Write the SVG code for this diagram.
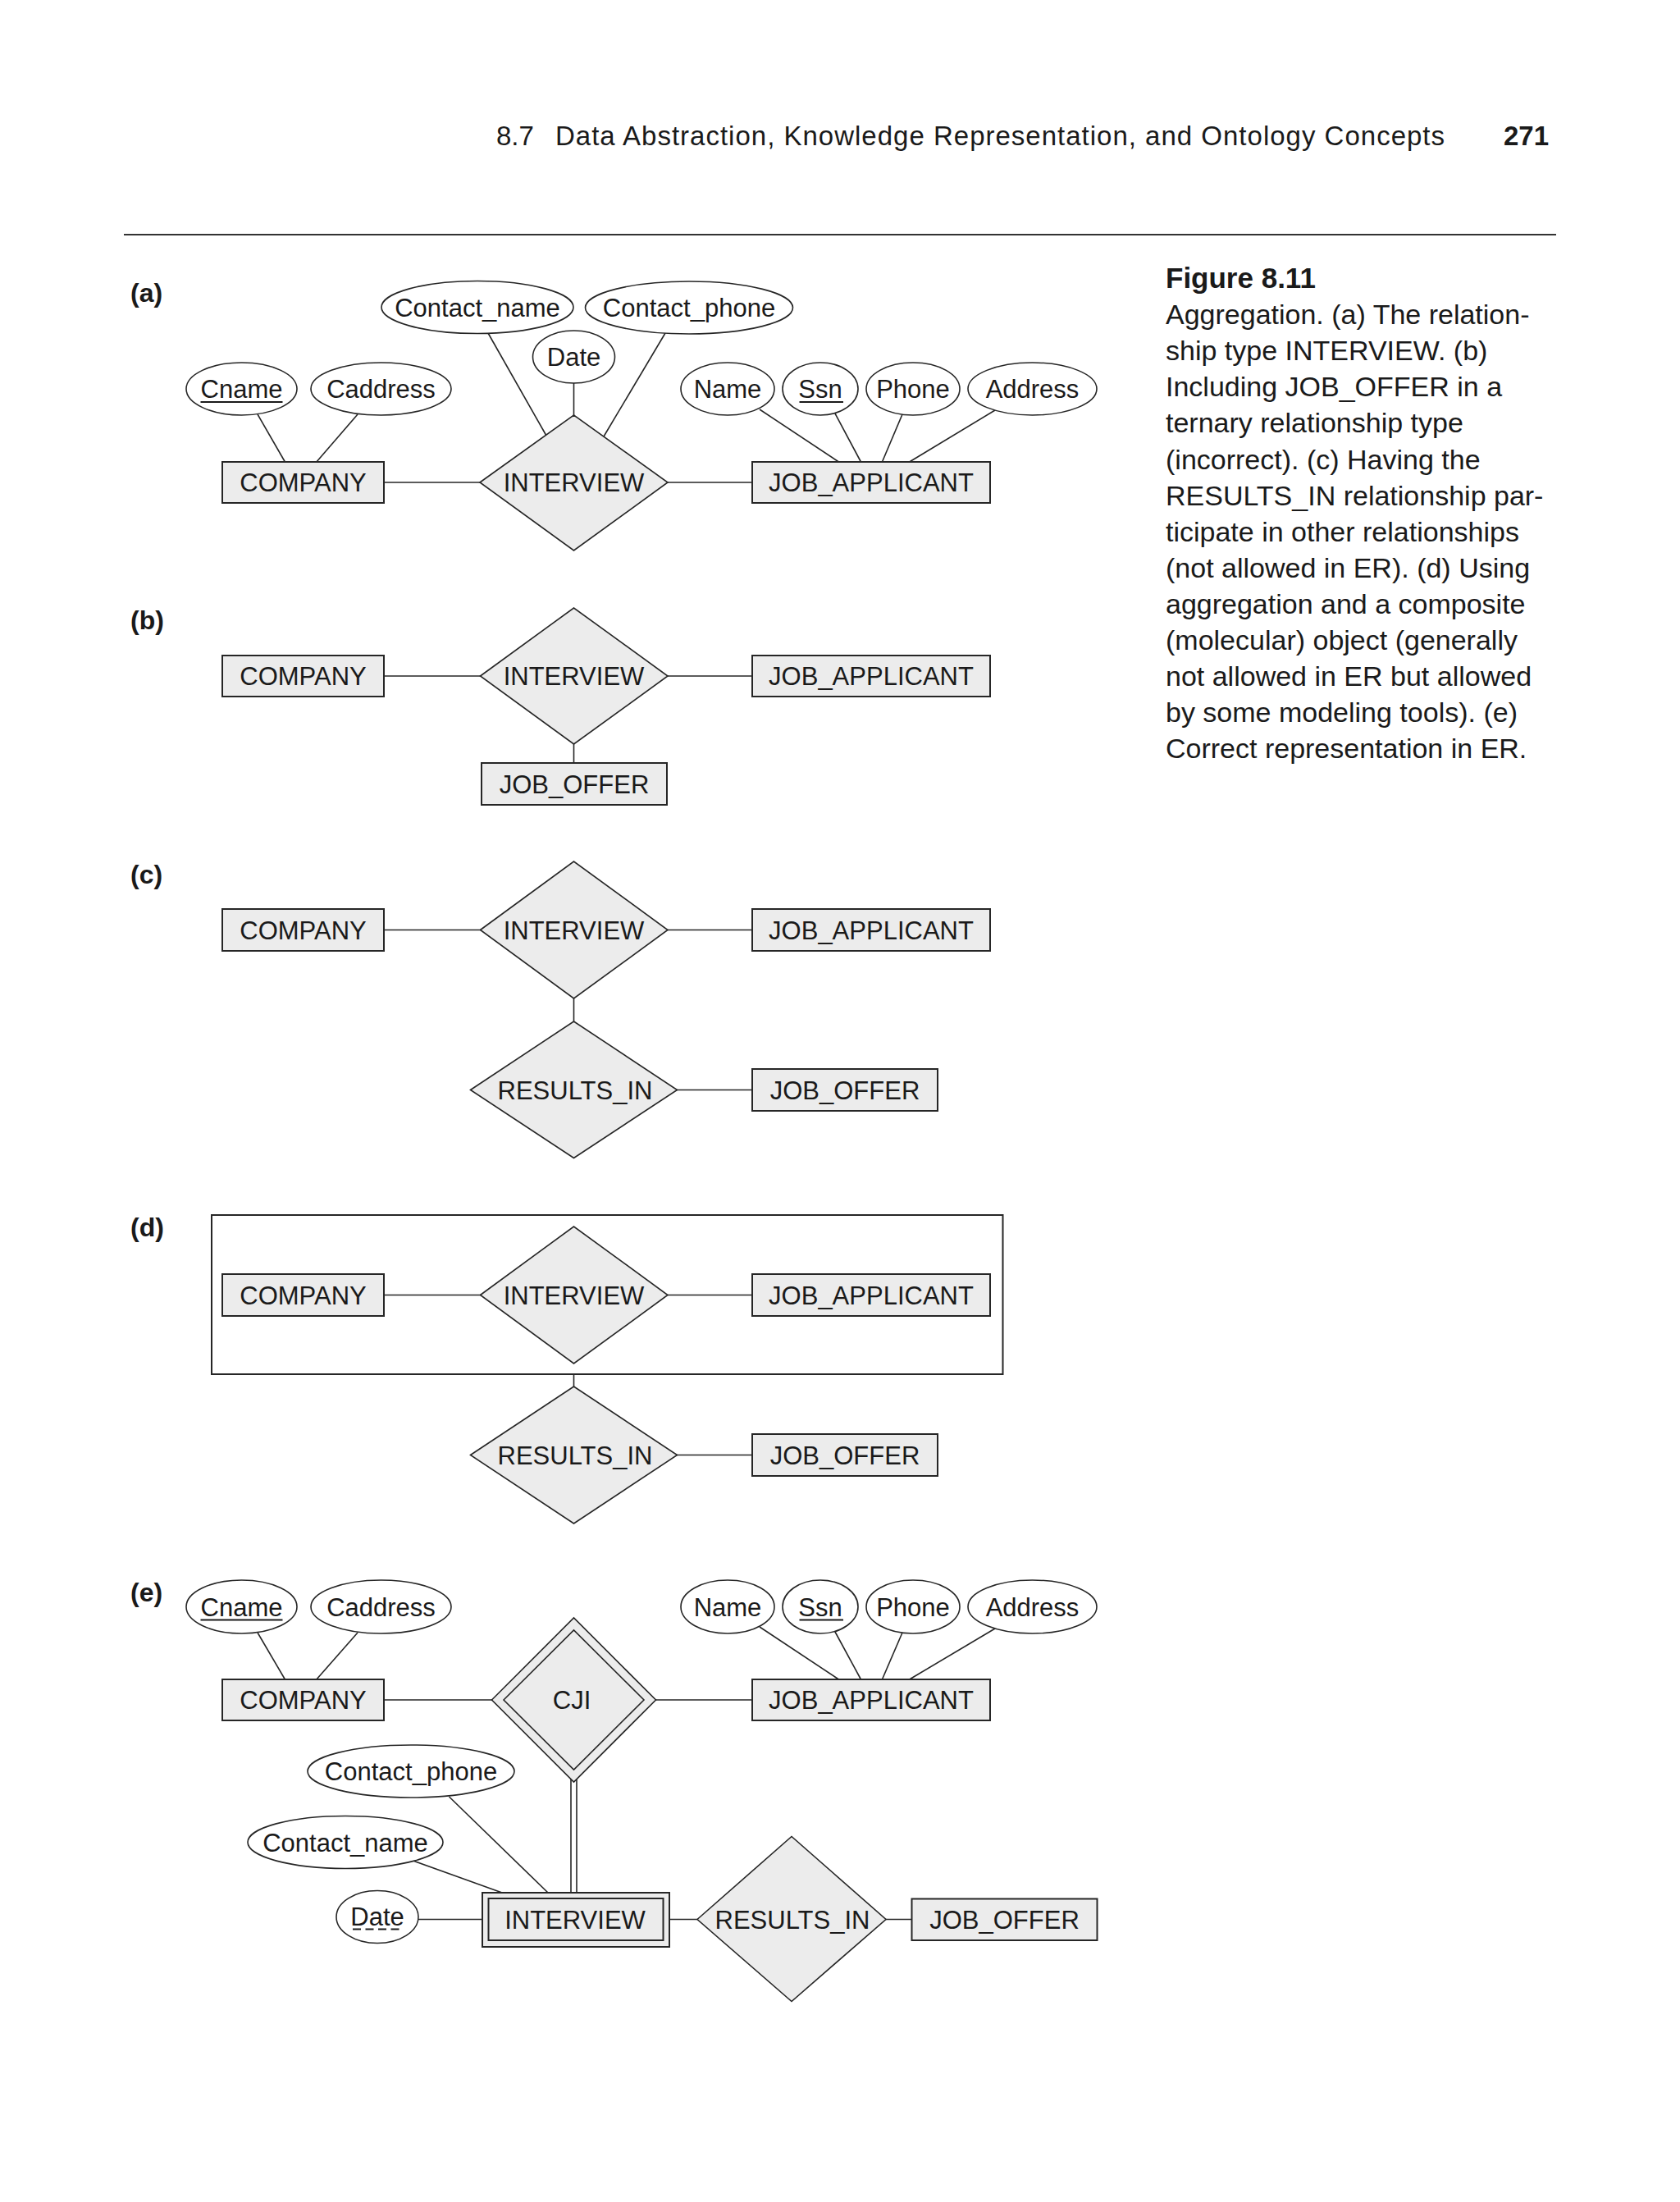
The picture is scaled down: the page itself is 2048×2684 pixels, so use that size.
<svg xmlns="http://www.w3.org/2000/svg" width="2048" height="2684" viewBox="0 0 2048 2684">
<style>
.bg{fill:#ffffff}
.ent{fill:#ececec;stroke:#262626;stroke-width:2}
.rel{fill:#ececec;stroke:#262626;stroke-width:1.6}
.attr{fill:#ffffff;stroke:#262626;stroke-width:1.6}
.agg{fill:none;stroke:#262626;stroke-width:2}
.ln{stroke:#262626;stroke-width:1.6;fill:none}
.ul{stroke:#1a1a1a;stroke-width:2}
.dul{stroke:#1a1a1a;stroke-width:2;stroke-dasharray:10 5.5}
.t{font-family:"Liberation Sans",Arial,sans-serif;font-size:31px;fill:#1a1a1a;text-anchor:middle}
.lbl{font-family:"Liberation Sans",Arial,sans-serif;font-size:32px;font-weight:bold;fill:#1a1a1a}
.hdr{font-family:"Liberation Sans",Arial,sans-serif;font-size:33px;fill:#1a1a1a}
.cap{font-family:"Liberation Sans",Arial,sans-serif;font-size:34px;fill:#1a1a1a}
.capb{font-family:"Liberation Sans",Arial,sans-serif;font-size:35px;font-weight:bold;fill:#1a1a1a}
</style>
<rect class="bg" x="0" y="0" width="2048" height="2684"/>

<g id="header">
<text class="hdr" x="605" y="177">8.7</text>
<text class="hdr" x="677" y="177" textLength="1084" lengthAdjust="spacing">Data Abstraction, Knowledge Representation, and Ontology Concepts</text>
<text class="hdr" x="1833" y="177" font-weight="bold">271</text>
<line x1="151" y1="286" x2="1897" y2="286" stroke="#333" stroke-width="2.2"/>
</g>

<g id="caption">
<text class="capb" x="1421" y="351">Figure 8.11</text>
<text class="cap" x="1421" y="395">Aggregation. (a) The relation-</text>
<text class="cap" x="1421" y="439">ship type INTERVIEW. (b)</text>
<text class="cap" x="1421" y="483">Including JOB_OFFER in a</text>
<text class="cap" x="1421" y="527">ternary relationship type</text>
<text class="cap" x="1421" y="571.5">(incorrect). (c) Having the</text>
<text class="cap" x="1421" y="615.5">RESULTS_IN relationship par-</text>
<text class="cap" x="1421" y="659.5">ticipate in other relationships</text>
<text class="cap" x="1421" y="703.5">(not allowed in ER). (d) Using</text>
<text class="cap" x="1421" y="747.5">aggregation and a composite</text>
<text class="cap" x="1421" y="791.5">(molecular) object (generally</text>
<text class="cap" x="1421" y="836">not allowed in ER but allowed</text>
<text class="cap" x="1421" y="880">by some modeling tools). (e)</text>
<text class="cap" x="1421" y="924">Correct representation in ER.</text>
</g>

<g id="labels">
<text class="lbl" x="159" y="368">(a)</text>
<text class="lbl" x="159" y="767">(b)</text>
<text class="lbl" x="159" y="1077">(c)</text>
<text class="lbl" x="159" y="1507">(d)</text>
<text class="lbl" x="159" y="1952">(e)</text>
</g>

<g id="connectors">
<!-- (a) -->
<line class="ln" x1="314" y1="505" x2="348" y2="564"/>
<line class="ln" x1="436" y1="505" x2="385" y2="564"/>
<line class="ln" x1="595" y1="406" x2="666" y2="531"/>
<line class="ln" x1="811" y1="406" x2="736" y2="532"/>
<line class="ln" x1="699.5" y1="466" x2="699.5" y2="507"/>
<line class="ln" x1="468" y1="588" x2="586" y2="588"/>
<line class="ln" x1="813" y1="588" x2="917" y2="588"/>
<line class="ln" x1="926" y1="499" x2="1024" y2="564"/>
<line class="ln" x1="1018" y1="504" x2="1050" y2="564"/>
<line class="ln" x1="1100" y1="505" x2="1075" y2="564"/>
<line class="ln" x1="1213" y1="500" x2="1107" y2="564"/>
<!-- (b) -->
<line class="ln" x1="468" y1="824" x2="586" y2="824"/>
<line class="ln" x1="814" y1="824" x2="917" y2="824"/>
<line class="ln" x1="699.5" y1="906" x2="699.5" y2="931"/>
<!-- (c) -->
<line class="ln" x1="468" y1="1133.5" x2="586" y2="1133.5"/>
<line class="ln" x1="814" y1="1133.5" x2="917" y2="1133.5"/>
<line class="ln" x1="699.5" y1="1216" x2="699.5" y2="1246"/>
<line class="ln" x1="825" y1="1328.5" x2="917" y2="1328.5"/>
<!-- (d) -->
<line class="ln" x1="468" y1="1578.5" x2="586" y2="1578.5"/>
<line class="ln" x1="814" y1="1578.5" x2="917" y2="1578.5"/>
<line class="ln" x1="699.5" y1="1675" x2="699.5" y2="1691"/>
<line class="ln" x1="825" y1="1773.5" x2="917" y2="1773.5"/>
<!-- (e) -->
<line class="ln" x1="314" y1="1990" x2="348" y2="2048"/>
<line class="ln" x1="436" y1="1990" x2="385" y2="2048"/>
<line class="ln" x1="926" y1="1983" x2="1024" y2="2048"/>
<line class="ln" x1="1018" y1="1989" x2="1050" y2="2048"/>
<line class="ln" x1="1100" y1="1990" x2="1075" y2="2048"/>
<line class="ln" x1="1213" y1="1985" x2="1107" y2="2048"/>
<line class="ln" x1="468" y1="2072" x2="600" y2="2072"/>
<line class="ln" x1="799" y1="2072" x2="917" y2="2072"/>
<line class="ln" x1="696" y1="2169" x2="696" y2="2307"/>
<line class="ln" x1="703" y1="2169" x2="703" y2="2307"/>
<line class="ln" x1="547.5" y1="2190" x2="668" y2="2307"/>
<line class="ln" x1="505" y1="2268.5" x2="612" y2="2307"/>
<line class="ln" x1="509" y1="2339.5" x2="588" y2="2339.5"/>
<line class="ln" x1="816" y1="2339.5" x2="851" y2="2339.5"/>
<line class="ln" x1="1079" y1="2339.5" x2="1112" y2="2339.5"/>
</g>

<!-- ===== (a) ===== -->
<g id="a-cname"><ellipse class="attr" cx="294.5" cy="474" rx="67.5" ry="32"/><text class="t" x="294.5" y="485">Cname</text><line class="ul" x1="244.5" y1="490" x2="344.5" y2="490"/></g>
<g id="a-caddress"><ellipse class="attr" cx="464.5" cy="474" rx="85.5" ry="32"/><text class="t" x="464.5" y="485">Caddress</text></g>
<g id="a-contact-name"><ellipse class="attr" cx="582" cy="374.5" rx="117" ry="32"/><text class="t" x="582" y="385.5">Contact_name</text></g>
<g id="a-contact-phone"><ellipse class="attr" cx="840" cy="375" rx="126.5" ry="32"/><text class="t" x="840" y="386">Contact_phone</text></g>
<g id="a-date"><ellipse class="attr" cx="699.5" cy="435" rx="50" ry="32"/><text class="t" x="699.5" y="446">Date</text></g>
<g id="a-name"><ellipse class="attr" cx="887" cy="474" rx="57" ry="32"/><text class="t" x="887" y="485">Name</text></g>
<g id="a-ssn"><ellipse class="attr" cx="1000" cy="474" rx="46" ry="32"/><text class="t" x="1000" y="485">Ssn</text><line class="ul" x1="974.5" y1="490" x2="1028" y2="490"/></g>
<g id="a-phone"><ellipse class="attr" cx="1113" cy="474" rx="57" ry="32"/><text class="t" x="1113" y="485">Phone</text></g>
<g id="a-address"><ellipse class="attr" cx="1258.5" cy="474" rx="78.5" ry="32"/><text class="t" x="1258.5" y="485">Address</text></g>
<g id="a-company"><rect class="ent" x="271" y="563" width="197" height="50"/><text class="t" x="369.5" y="599">COMPANY</text></g>
<g id="a-interview"><polygon class="rel" points="585,588 699.5,506 814,588 699.5,671"/><text class="t" x="699.5" y="599">INTERVIEW</text></g>
<g id="a-job-applicant"><rect class="ent" x="917" y="563" width="290" height="50"/><text class="t" x="1062" y="599">JOB_APPLICANT</text></g>

<!-- ===== (b) ===== -->
<g id="b-company"><rect class="ent" x="271" y="799" width="197" height="50"/><text class="t" x="369.5" y="835">COMPANY</text></g>
<g id="b-interview"><polygon class="rel" points="585.5,824 699.5,741 814,824 699.5,907"/><text class="t" x="699.5" y="835">INTERVIEW</text></g>
<g id="b-job-applicant"><rect class="ent" x="917" y="799" width="290" height="50"/><text class="t" x="1062" y="835">JOB_APPLICANT</text></g>
<g id="b-job-offer"><rect class="ent" x="587" y="930" width="226" height="51"/><text class="t" x="700" y="966.5">JOB_OFFER</text></g>

<!-- ===== (c) ===== -->
<g id="c-company"><rect class="ent" x="271" y="1108" width="197" height="51"/><text class="t" x="369.5" y="1144.5">COMPANY</text></g>
<g id="c-interview"><polygon class="rel" points="585.5,1133.5 699.5,1050 814,1133.5 699.5,1217"/><text class="t" x="699.5" y="1144.5">INTERVIEW</text></g>
<g id="c-job-applicant"><rect class="ent" x="917" y="1108" width="290" height="51"/><text class="t" x="1062" y="1144.5">JOB_APPLICANT</text></g>
<g id="c-results-in"><polygon class="rel" points="573.5,1328.5 699.5,1245 825.5,1328.5 699.5,1411.5"/><text class="t" x="701" y="1339.5">RESULTS_IN</text></g>
<g id="c-job-offer"><rect class="ent" x="917" y="1303" width="226" height="51"/><text class="t" x="1030" y="1339.5">JOB_OFFER</text></g>

<!-- ===== (d) ===== -->
<g id="d-aggregation"><rect class="agg" x="258" y="1481" width="964.5" height="194"/></g>
<g id="d-company"><rect class="ent" x="271" y="1553" width="197" height="51"/><text class="t" x="369.5" y="1589.5">COMPANY</text></g>
<g id="d-interview"><polygon class="rel" points="585.5,1578.5 699.5,1495 814,1578.5 699.5,1662"/><text class="t" x="699.5" y="1589.5">INTERVIEW</text></g>
<g id="d-job-applicant"><rect class="ent" x="917" y="1553" width="290" height="51"/><text class="t" x="1062" y="1589.5">JOB_APPLICANT</text></g>
<g id="d-results-in"><polygon class="rel" points="573.5,1773.5 699.5,1690 825.5,1773.5 699.5,1857"/><text class="t" x="701" y="1784.5">RESULTS_IN</text></g>
<g id="d-job-offer"><rect class="ent" x="917" y="1748" width="226" height="51"/><text class="t" x="1030" y="1784.5">JOB_OFFER</text></g>

<!-- ===== (e) ===== -->
<g id="e-cname"><ellipse class="attr" cx="294.5" cy="1958.5" rx="67.5" ry="32.5"/><text class="t" x="294.5" y="1969.5">Cname</text><line class="ul" x1="244.5" y1="1974.5" x2="344.5" y2="1974.5"/></g>
<g id="e-caddress"><ellipse class="attr" cx="464.5" cy="1958.5" rx="85.5" ry="32.5"/><text class="t" x="464.5" y="1969.5">Caddress</text></g>
<g id="e-name"><ellipse class="attr" cx="887" cy="1958.5" rx="57" ry="32.5"/><text class="t" x="887" y="1969.5">Name</text></g>
<g id="e-ssn"><ellipse class="attr" cx="1000" cy="1958.5" rx="46" ry="32.5"/><text class="t" x="1000" y="1969.5">Ssn</text><line class="ul" x1="974.5" y1="1974.5" x2="1028" y2="1974.5"/></g>
<g id="e-phone"><ellipse class="attr" cx="1113" cy="1958.5" rx="57" ry="32.5"/><text class="t" x="1113" y="1969.5">Phone</text></g>
<g id="e-address"><ellipse class="attr" cx="1258.5" cy="1958.5" rx="78.5" ry="32.5"/><text class="t" x="1258.5" y="1969.5">Address</text></g>
<g id="e-company"><rect class="ent" x="271" y="2047" width="197" height="50"/><text class="t" x="369.5" y="2083">COMPANY</text></g>
<g id="e-cji"><polygon class="rel" points="599.5,2072 699.5,1972 799.5,2072 699.5,2172"/><polygon class="rel" points="614,2072 699.5,1987 785,2072 699.5,2157"/><text class="t" x="697" y="2083">CJI</text></g>
<g id="e-job-applicant"><rect class="ent" x="917" y="2047" width="290" height="50"/><text class="t" x="1062" y="2083">JOB_APPLICANT</text></g>
<g id="e-contact-phone"><ellipse class="attr" cx="501" cy="2159" rx="126" ry="32"/><text class="t" x="501" y="2170">Contact_phone</text></g>
<g id="e-contact-name"><ellipse class="attr" cx="421" cy="2245.5" rx="119" ry="32"/><text class="t" x="421" y="2256.5">Contact_name</text></g>
<g id="e-date"><ellipse class="attr" cx="460" cy="2336.5" rx="50" ry="32"/><text class="t" x="460" y="2347">Date</text><line class="dul" x1="430" y1="2351.5" x2="489" y2="2351.5"/></g>
<g id="e-interview"><rect class="ent" x="588" y="2307" width="228" height="66"/><rect class="ent" x="595.5" y="2314" width="213" height="51"/><text class="t" x="701" y="2351">INTERVIEW</text></g>
<g id="e-results-in"><polygon class="rel" points="850,2339.5 965,2238.5 1080,2339.5 965,2439.5"/><text class="t" x="966" y="2350.5">RESULTS_IN</text></g>
<g id="e-job-offer"><rect class="ent" x="1111.5" y="2314.5" width="226" height="50.5"/><text class="t" x="1224.5" y="2350.5">JOB_OFFER</text></g>
</svg>
